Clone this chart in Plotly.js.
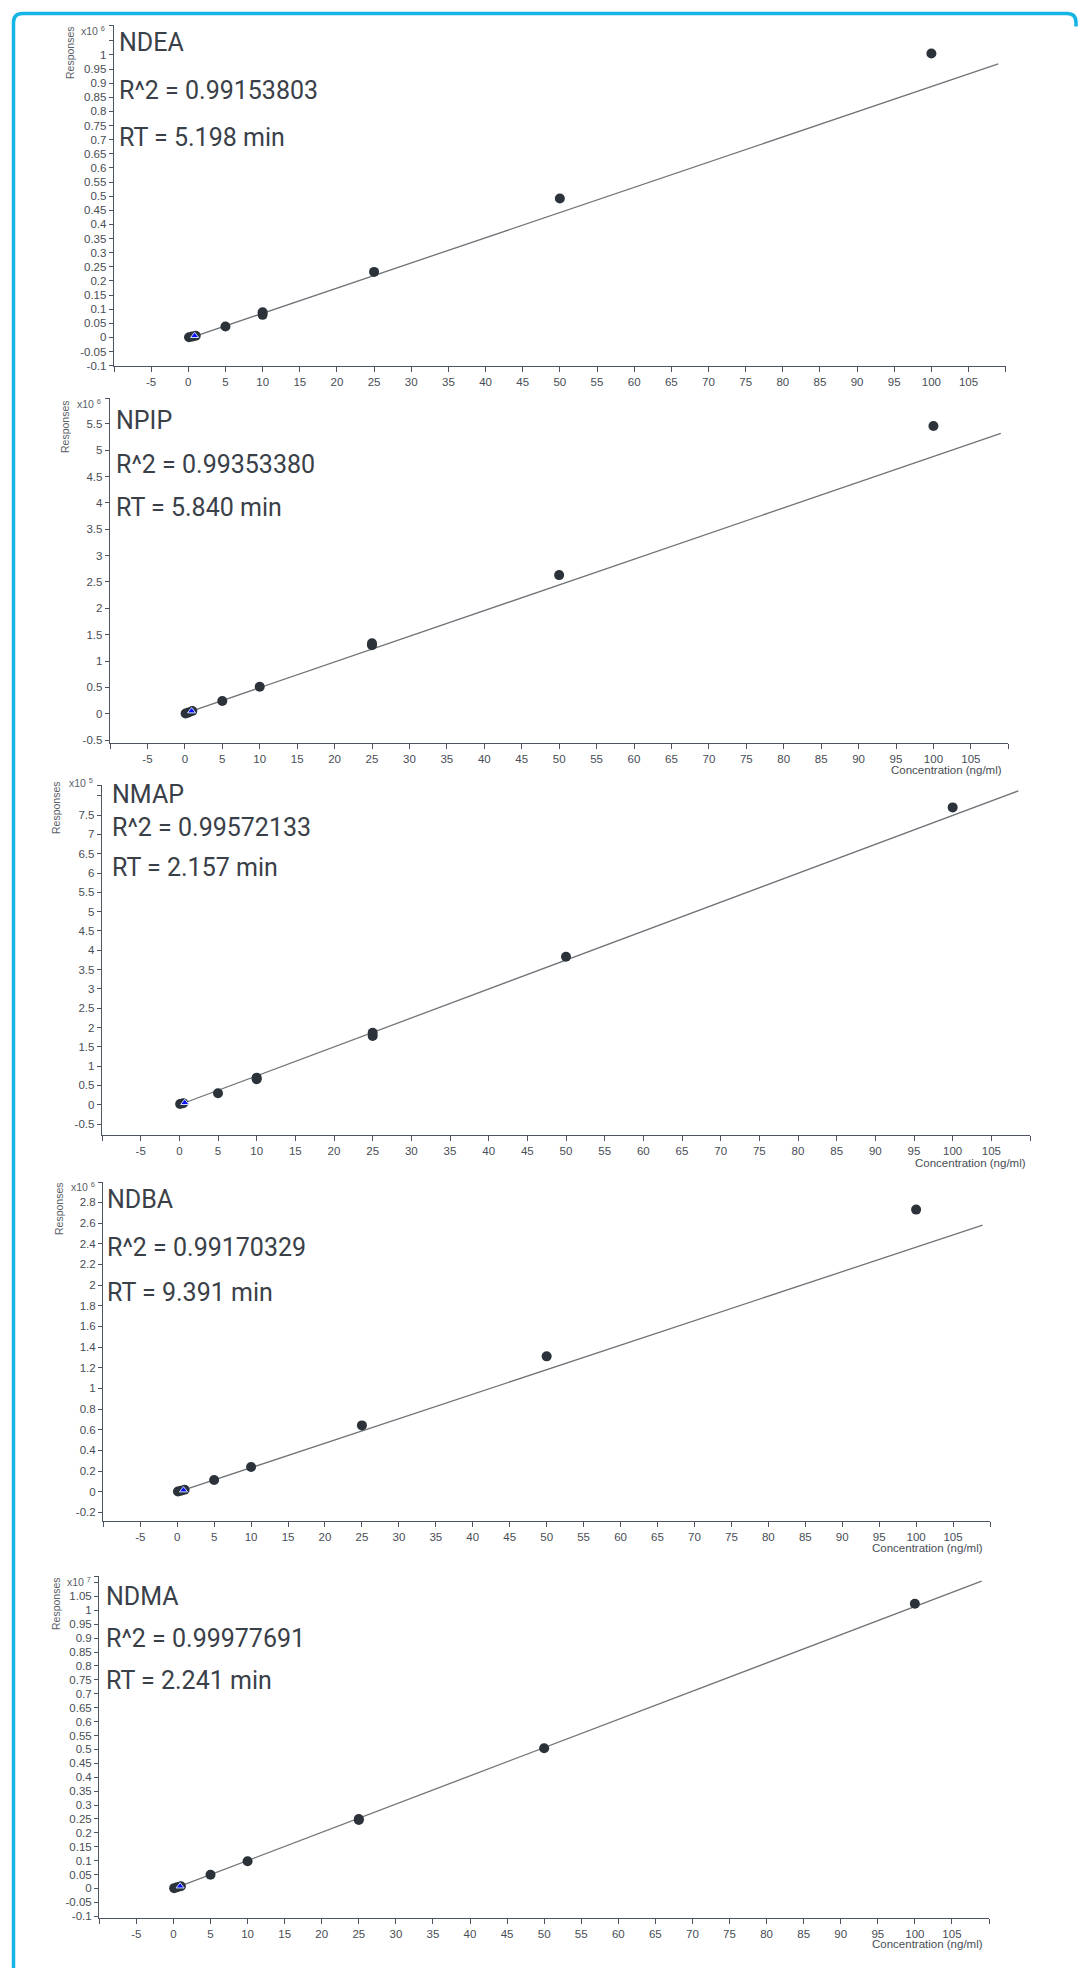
<!DOCTYPE html>
<html>
<head>
<meta charset="utf-8">
<script src="https://cdn.plot.ly/plotly-3.0.1.min.js"></script>
<style>
html,body{margin:0;padding:0;background:#fff;}
#chart{width:1085px;height:1968px;}
</style>
</head>
<body>
<div id="chart"></div>
<script>
// ---------------- data ----------------
const compounds = ['NDEA', 'NPIP', 'NMAP', 'NDBA', 'NDMA'];
const r2Labels = ['R^2 = 0.99153803', 'R^2 = 0.99353380', 'R^2 = 0.99572133', 'R^2 = 0.99170329', 'R^2 = 0.99977691'];
const rtLabels = ['RT = 5.198 min', 'RT = 5.840 min', 'RT = 2.157 min', 'RT = 9.391 min', 'RT = 2.241 min'];
const exponents = ['6', '6', '5', '6', '7'];
const yTitle = 'Responses';
const xTitle = 'Concentration (ng/ml)';

// calibration points (concentration ng/ml, response in units of 10^exponent)
const ndeaConc = [0.1, 0.5, 1, 5, 10, 10, 25, 50, 100];
const ndeaResp = [0.001, 0.003, 0.006, 0.039, 0.080, 0.089, 0.232, 0.492, 1.005];
const npipConc = [0.1, 0.5, 1, 5, 10, 25, 25, 50, 100];
const npipResp = [0.005, 0.025, 0.05, 0.241, 0.512, 1.30, 1.336, 2.63, 5.46];
const nmapConc = [0.1, 0.5, 5, 10, 10, 25, 25, 50, 100];
const nmapResp = [0.02, 0.04, 0.295, 0.66, 0.70, 1.78, 1.865, 3.83, 7.70];
const ndbaConc = [0.1, 0.5, 1, 5, 10, 25, 50, 100];
const ndbaResp = [0.003, 0.01, 0.02, 0.113, 0.239, 0.642, 1.31, 2.73];
const ndmaConc = [0.1, 0.5, 1, 5, 10, 25, 25, 50, 100];
const ndmaResp = [0.001, 0.004, 0.008, 0.049, 0.098, 0.246, 0.250, 0.504, 1.024];

// blue triangle (check sample)
const ndeaQcConc = [0.85]; const ndeaQcResp = [0.006];
const npipQcConc = [0.9];  const npipQcResp = [0.05];
const nmapQcConc = [0.7];  const nmapQcResp = [0.05];
const ndbaQcConc = [0.85]; const ndbaQcResp = [0.016];
const ndmaQcConc = [0.9];  const ndmaQcResp = [0.008];

// regression line end points
const ndeaFitConc = [0.85, 109]; const ndeaFitResp = [0.004, 0.968];
const npipFitConc = [0.9, 109];  const npipFitResp = [0.05, 5.32];
const nmapFitConc = [0.7, 108.5]; const nmapFitResp = [0.05, 8.13];
const ndbaFitConc = [0.85, 109]; const ndbaFitResp = [0.016, 2.58];
const ndmaFitConc = [0.9, 109];  const ndmaFitResp = [0.008, 1.105];

// tick labels
const xTickText = ['', '-5', '0', '5', '10', '15', '20', '25', '30', '35', '40', '45', '50', '55', '60', '65', '70', '75', '80', '85', '90', '95', '100', '105', ''];
const xTickVals = [-10, -5, 0, 5, 10, 15, 20, 25, 30, 35, 40, 45, 50, 55, 60, 65, 70, 75, 80, 85, 90, 95, 100, 105, 110];
const ndeaYTicks = ['-0.1', '-0.05', '0', '0.05', '0.1', '0.15', '0.2', '0.25', '0.3', '0.35', '0.4', '0.45', '0.5', '0.55', '0.6', '0.65', '0.7', '0.75', '0.8', '0.85', '0.9', '0.95', '1'];
const npipYTicks = ['-0.5', '0', '0.5', '1', '1.5', '2', '2.5', '3', '3.5', '4', '4.5', '5', '5.5'];
const nmapYTicks = ['-0.5', '0', '0.5', '1', '1.5', '2', '2.5', '3', '3.5', '4', '4.5', '5', '5.5', '6', '6.5', '7', '7.5'];
const ndbaYTicks = ['-0.2', '0', '0.2', '0.4', '0.6', '0.8', '1', '1.2', '1.4', '1.6', '1.8', '2', '2.2', '2.4', '2.6', '2.8'];
const ndmaYTicks = ['-0.1', '-0.05', '0', '0.05', '0.1', '0.15', '0.2', '0.25', '0.3', '0.35', '0.4', '0.45', '0.5', '0.55', '0.6', '0.65', '0.7', '0.75', '0.8', '0.85', '0.9', '0.95', '1', '1.05'];
// unlabeled ticks (top caps)
const ndeaYBlank = [1.05, 1.105];
const npipYBlank = [5.98];
const nmapYBlank = [8, 8.27];
const ndbaYBlank = [2.995];
const ndmaYBlank = [1.1, 1.122];

// ---------------- presentation ----------------
const W = 1085, H = 1968;
const px = v => v / W;
const py = v => 1 - v / H;

const axisColor = '#4c5561';
const tickFont = {family: '"Liberation Sans Narrow", "Liberation Sans", Arial, sans-serif', size: 11.5, color: '#474d55'};
const titleFont = {family: 'Roboto, "Noto Sans", sans-serif', size: 25, color: '#3a4048'};
const smallFont = {family: '"Liberation Sans", Arial, sans-serif', size: 10.5, color: '#5a6068'};
const concFont = {family: '"Liberation Sans Narrow", "Liberation Sans", Arial, sans-serif', size: 11.5, color: '#474d55'};

// panel geometry in pixels: x-axis left/right, y-axis top/bottom, y range
const geom = [
  {xl: 114, xr: 1005.7, yt: 25,     yb: 365.7,  yr: [-0.1, 1.106]},
  {xl: 110, xr: 1008.3, yt: 398,    yb: 742.7,  yr: [-0.55, 5.99]},
  {xl: 102, xr: 1030,   yt: 785,    yb: 1135,   yr: [-0.785, 8.28]},
  {xl: 103.3, xr: 990,  yt: 1181.7, yb: 1520.7, yr: [-0.28, 3.0]},
  {xl: 99.3, xr: 989,   yt: 1576,   yb: 1917.5, yr: [-0.1045, 1.1235]}
];
// text positions (pixels)
const textPos = [
  {x: 117, y: [42.5, 90.3, 137.3],    resp: [70, 53],   exp: [107, 30],  conc: null},
  {x: 114, y: [420.8, 464, 507.3],    resp: [65, 427],  exp: [103, 403], conc: [1004, 770]},
  {x: 110, y: [794.5, 827.5, 867],    resp: [56, 808],  exp: [95, 782],  conc: [1028, 1163]},
  {x: 105, y: [1199.8, 1247.5, 1292], resp: [59, 1209], exp: [97, 1186], conc: [985, 1548]},
  {x: 104, y: [1596.8, 1638, 1680.8], resp: [56, 1604], exp: [93, 1581], conc: [985, 1944]}
];

const series = [
  [ndeaConc, ndeaResp, ndeaQcConc, ndeaQcResp, ndeaFitConc, ndeaFitResp, ndeaYTicks, ndeaYBlank],
  [npipConc, npipResp, npipQcConc, npipQcResp, npipFitConc, npipFitResp, npipYTicks, npipYBlank],
  [nmapConc, nmapResp, nmapQcConc, nmapQcResp, nmapFitConc, nmapFitResp, nmapYTicks, nmapYBlank],
  [ndbaConc, ndbaResp, ndbaQcConc, ndbaQcResp, ndbaFitConc, ndbaFitResp, ndbaYTicks, ndbaYBlank],
  [ndmaConc, ndmaResp, ndmaQcConc, ndmaQcResp, ndmaFitConc, ndmaFitResp, ndmaYTicks, ndmaYBlank]
];

const traces = [];
const layout = {
  width: W, height: H,
  margin: {l: 0, r: 0, t: 0, b: 0},
  paper_bgcolor: '#ffffff', plot_bgcolor: 'rgba(0,0,0,0)',
  showlegend: false, hovermode: false,
  annotations: [], shapes: []
};

series.forEach((s, i) => {
  const n = i === 0 ? '' : String(i + 1);
  const g = geom[i];
  const [cx, cy, qx, qy, fx, fy, yt, yb] = s;
  traces.push({x: fx, y: fy, xaxis: 'x' + n, yaxis: 'y' + n, mode: 'lines', type: 'scatter',
    line: {color: '#6f7479', width: 1.3}});
  traces.push({x: cx, y: cy, xaxis: 'x' + n, yaxis: 'y' + n, mode: 'markers', type: 'scatter',
    marker: {color: '#2b323a', size: 10, line: {width: 0}}});
  traces.push({x: qx, y: qy, xaxis: 'x' + n, yaxis: 'y' + n, mode: 'markers', type: 'scatter',
    marker: {symbol: 'triangle-up', color: '#0a0aff', size: 7, line: {color: '#c8dcff', width: 1}}});

  layout['xaxis' + n] = {
    domain: [px(g.xl), px(g.xr)], range: [-10, 110], anchor: 'y' + n,
    tickmode: 'array', tickvals: xTickVals, ticktext: xTickText, tickangle: 0,
    ticks: 'outside', ticklen: 5, tickwidth: 1, tickcolor: axisColor,
    showline: true, linecolor: axisColor, linewidth: 1.3,
    showgrid: false, zeroline: false, tickfont: tickFont, fixedrange: true
  };
  const yVals = yt.map(parseFloat).concat(yb);
  const yText = yt.concat(yb.map(() => ''));
  layout['yaxis' + n] = {
    domain: [py(g.yb), py(g.yt)], range: g.yr, anchor: 'x' + n,
    tickmode: 'array', tickvals: yVals, ticktext: yText,
    ticks: 'outside', ticklen: 4, tickwidth: 1, tickcolor: axisColor,
    showline: true, linecolor: axisColor, linewidth: 1.3,
    showgrid: false, zeroline: false, tickfont: tickFont, fixedrange: true
  };

  const t = textPos[i];
  [compounds[i], r2Labels[i], rtLabels[i]].forEach((txt, k) => {
    layout.annotations.push({text: txt, xref: 'paper', yref: 'paper', x: px(t.x), y: py(t.y[k]),
      xanchor: 'left', yanchor: 'middle', showarrow: false, font: titleFont});
  });
  layout.annotations.push({text: yTitle, xref: 'paper', yref: 'paper', x: px(t.resp[0]), y: py(t.resp[1]),
    xanchor: 'center', yanchor: 'middle', textangle: -90, showarrow: false, font: smallFont});
  layout.annotations.push({text: 'x10 <sup>' + exponents[i] + '</sup>', xref: 'paper', yref: 'paper',
    x: px(t.exp[0]), y: py(t.exp[1]), xanchor: 'right', yanchor: 'middle', showarrow: false, font: smallFont});
  if (t.conc) {
    layout.annotations.push({text: xTitle, xref: 'paper', yref: 'paper', x: px(t.conc[0]), y: py(t.conc[1]),
      xanchor: 'right', yanchor: 'middle', showarrow: false, font: concFont});
  }
});

// cyan frame (left and top edge with rounded corners)
const bx = 13.5, by = 13.5, r = 9, rx = 1076;
const path = 'M ' + px(bx) + ',' + py(H) +
  ' L ' + px(bx) + ',' + py(by + r) +
  ' Q ' + px(bx) + ',' + py(by) + ' ' + px(bx + r) + ',' + py(by) +
  ' L ' + px(rx - r) + ',' + py(by) +
  ' Q ' + px(rx) + ',' + py(by) + ' ' + px(rx) + ',' + py(by + r) +
  ' L ' + px(rx) + ',' + py(by + r + 4);
layout.shapes.push({type: 'path', xref: 'paper', yref: 'paper', path: path,
  line: {color: '#14b4e4', width: 3.5}, fillcolor: 'rgba(0,0,0,0)'});

Plotly.newPlot('chart', traces, layout, {staticPlot: true, displayModeBar: false});
</script>
</body>
</html>
